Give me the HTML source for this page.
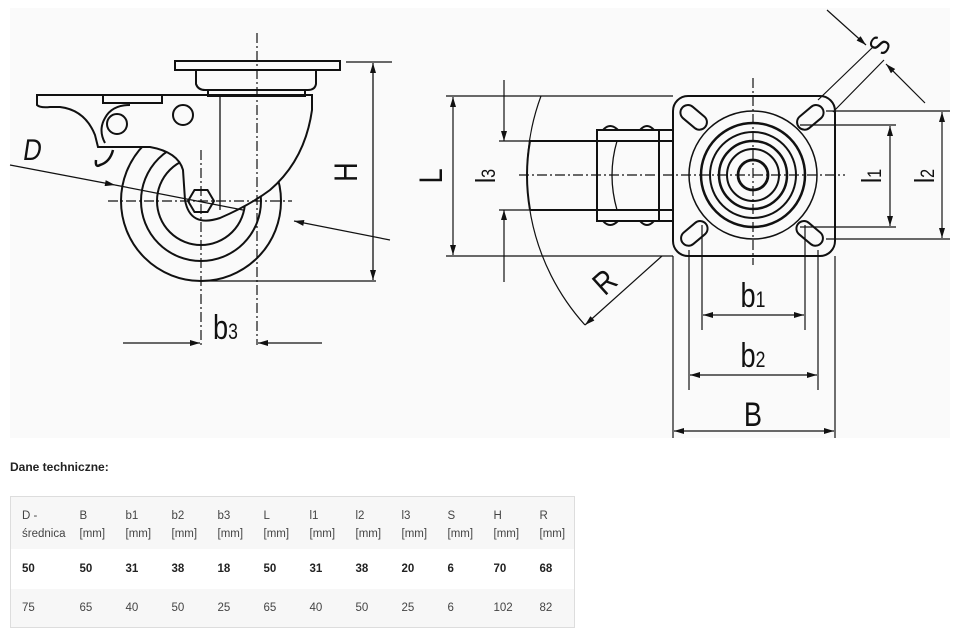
<!DOCTYPE html>
<html><head><meta charset="utf-8"><style>
body{margin:0;background:#fff;width:960px;height:635px;overflow:hidden;font-family:"Liberation Sans",sans-serif}
svg{position:absolute;left:0;top:0}
.t{position:absolute;left:10px;top:460px;font-size:12px;font-weight:bold;color:#222}
table{position:absolute;left:10px;top:496px;border-collapse:collapse;font-size:11.5px;color:#444;border:1px solid #ddd}
td{padding:0 0 0 11px;vertical-align:top;line-height:18px}
tr.h td{height:52px;padding-top:10px;box-sizing:border-box;background:#f7f7f7}
tr.b td{height:40px;vertical-align:middle;font-weight:bold;color:#222;background:#fff}
tr.c td{height:38px;vertical-align:middle;background:#f7f7f7}
</style></head><body>
<svg width="960" height="440" viewBox="0 0 960 440">
<defs><marker id="a" viewBox="0 0 10 6" refX="10" refY="3" markerWidth="11" markerHeight="6" orient="auto-start-reverse" markerUnits="userSpaceOnUse"><path d="M0 0L10 3L0 6z" fill="#111"/></marker></defs>
<rect x="10" y="8" width="940" height="430" fill="#fafafa"/>
<g fill="none" stroke="#111" stroke-width="2">
<circle cx="201" cy="201" r="80"/><circle cx="201" cy="201" r="60"/><circle cx="201" cy="201" r="44"/>
<path d="M98 147 L150 147 Q178 152 183 170 L185 200 Q190 228 220 218 Q250 205 270 190 Q305 160 312 110 L312 95 L37 95 L37 105 Q40 108 50 107 L60 107 Q85 110 95 135 Z" fill="#fafafa"/>
<rect x="175" y="61" width="165" height="9"/>
<path d="M196 70 L196 84 Q198 90 205 90 L308 90 Q315 90 316 84 L316 70"/>
<rect x="208" y="90" width="97" height="6"/>
<rect x="103" y="95" width="59" height="8"/>
<path d="M220 96 L220 210" stroke-width="1.3"/>
<path d="M105 143 Q98 130 105 118 Q112 105 130 105"/>
<circle cx="117" cy="124" r="10"/><circle cx="183" cy="115" r="10"/>
<path d="M113 150 Q110 162 100 165 Q95 168 96 160" stroke-width="2.5"/>
<polygon points="188,201 194.5,190 207.5,190 214,201 207.5,212 194.5,212" fill="#fafafa"/>
</g>
<g stroke="#111" stroke-width="1.2" fill="none">
<path d="M257 33 L257 345" stroke-dasharray="10 3 2 3"/>
<path d="M201 150 L201 345" stroke-dasharray="10 3 2 3"/>
<path d="M108 201 L292 201" stroke-dasharray="10 3 2 3"/>
<path d="M346 62 L392 62 M200 281 L376 281"/>
<path d="M373 63 L373 280" marker-start="url(#a)" marker-end="url(#a)" stroke-width="1.3"/>
<path d="M10 165 L115 185" marker-end="url(#a)"/><path d="M115 185 L243 210"/>
<path d="M390 240 L294 221" marker-end="url(#a)"/>
<path d="M123 343 L200 343" marker-end="url(#a)"/><path d="M322 343 L258 343" marker-end="url(#a)"/>
</g>
<g font-family="Liberation Sans,sans-serif" fill="#111">
<text transform="translate(22,160) scale(0.85,1) skewX(-10)" font-size="30">D</text>
<text transform="translate(357,172) rotate(-90) scale(0.85,1)" font-size="32" text-anchor="middle">H</text>
<text transform="translate(213,339) scale(0.8,1)" font-size="34">b<tspan font-size="22">3</tspan></text>
</g>
<g fill="none" stroke="#111" stroke-width="2">
<path d="M530 141 L673 141 M530 210 L673 210 M530 141 Q524 175 530 210"/>
<path d="M617 141 Q607 175 617 210" stroke-width="1.3"/>
<rect x="597" y="130" width="76" height="91"/>
<path d="M659 130 L659 221"/>
<path d="M603 130 Q610 122 618 130 M640 130 Q647 122 654 130 M603 221 Q610 229 618 221 M640 221 Q647 229 654 221"/>
<rect x="673" y="96" width="162" height="160" rx="15" fill="#fafafa"/>
<circle cx="753" cy="175" r="64" stroke-width="1.5"/>
<circle cx="753" cy="175" r="52" stroke-width="2.5"/>
<circle cx="753" cy="175" r="43"/><circle cx="753" cy="175" r="34" stroke-width="2.5"/>
<circle cx="753" cy="175" r="26"/><circle cx="753" cy="175" r="15" stroke-width="2.8"/>
<rect x="679" y="110" width="30" height="15" rx="7.5" transform="rotate(40 694 117)"/>
<rect x="795" y="110" width="30" height="15" rx="7.5" transform="rotate(-40 810 117)"/>
<rect x="679" y="226" width="30" height="15" rx="7.5" transform="rotate(-40 694 233)"/>
<rect x="795" y="226" width="30" height="15" rx="7.5" transform="rotate(40 810 233)"/>
</g>
<g stroke="#111" stroke-width="1.2" fill="none">
<path d="M519 175 L845 175" stroke-dasharray="10 3 2 3"/>
<path d="M753 78 L753 265" stroke-dasharray="10 3 2 3"/>
<path d="M446 96 L673 96 M446 256 L673 256"/>
<path d="M453 97 L453 255" marker-start="url(#a)" marker-end="url(#a)"/>
<path d="M499 141 L530 141 M499 210 L530 210"/>
<path d="M504 80 L504 141" marker-end="url(#a)"/><path d="M504 282 L504 210" marker-end="url(#a)"/>
<path d="M541 96 A225 225 0 0 0 585 325"/>
<path d="M662 256 L585 325" marker-end="url(#a)"/>
<path d="M800 125 L896 125 M800 227 L896 227"/>
<path d="M890 126 L890 226" marker-start="url(#a)" marker-end="url(#a)"/>
<path d="M826 111 L950 111 M826 239 L950 239"/>
<path d="M942 112 L942 238" marker-start="url(#a)" marker-end="url(#a)"/>
<path d="M702 225 L702 330 M805 225 L805 330"/>
<path d="M703 315 L804 315" marker-start="url(#a)" marker-end="url(#a)"/>
<path d="M689 250 L689 390 M818 250 L818 390"/>
<path d="M690 375 L817 375" marker-start="url(#a)" marker-end="url(#a)"/>
<path d="M673 256 L673 438 M835 256 L835 438"/>
<path d="M674 431 L834 431" marker-start="url(#a)" marker-end="url(#a)"/>
<path d="M818 100 L873 47 M833 112 L884 60"/>
<path d="M827 10 L866 45" marker-end="url(#a)"/><path d="M925 103 L886 64" marker-end="url(#a)"/>
</g>
<g font-family="Liberation Sans,sans-serif" fill="#111">
<text transform="translate(442,176) rotate(-90) scale(0.85,1)" font-size="32" text-anchor="middle">L</text>
<text transform="translate(495,176) rotate(-90) scale(0.85,1)" font-size="28" text-anchor="middle">l<tspan font-size="19">3</tspan></text>
<text transform="translate(612,290) rotate(-42) scale(0.85,1)" font-size="32" text-anchor="middle">R</text>
<text transform="translate(881,176) rotate(-90) scale(0.85,1)" font-size="28" text-anchor="middle">l<tspan font-size="19">1</tspan></text>
<text transform="translate(934,176) rotate(-90) scale(0.85,1)" font-size="28" text-anchor="middle">l<tspan font-size="19">2</tspan></text>
<text transform="translate(753,307) scale(0.8,1)" font-size="34" text-anchor="middle">b<tspan font-size="22">1</tspan></text>
<text transform="translate(753,367) scale(0.8,1)" font-size="34" text-anchor="middle">b<tspan font-size="22">2</tspan></text>
<text transform="translate(753,426) scale(0.8,1)" font-size="34" text-anchor="middle">B</text>
<text transform="translate(888,50) rotate(-60) scale(0.85,1)" font-size="28" text-anchor="middle">S</text>
</g>
</svg>
<div class="t">Dane techniczne:</div>
<table>
<colgroup><col style="width:58px"><col span="11" style="width:46px"></colgroup>
<tr class="h"><td>D -<br>średnica</td><td>B<br>[mm]</td><td>b1<br>[mm]</td><td>b2<br>[mm]</td><td>b3<br>[mm]</td><td>L<br>[mm]</td><td>l1<br>[mm]</td><td>l2<br>[mm]</td><td>l3<br>[mm]</td><td>S<br>[mm]</td><td>H<br>[mm]</td><td>R<br>[mm]</td></tr>
<tr class="b"><td>50</td><td>50</td><td>31</td><td>38</td><td>18</td><td>50</td><td>31</td><td>38</td><td>20</td><td>6</td><td>70</td><td>68</td></tr>
<tr class="c"><td>75</td><td>65</td><td>40</td><td>50</td><td>25</td><td>65</td><td>40</td><td>50</td><td>25</td><td>6</td><td>102</td><td>82</td></tr>
</table>
</body></html>
